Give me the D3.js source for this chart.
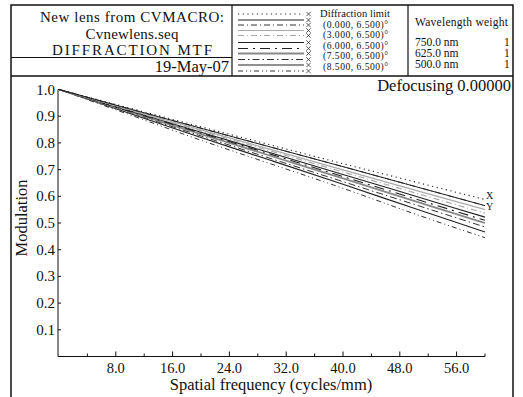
<!DOCTYPE html>
<html><head><meta charset="utf-8">
<script src="https://cdn.jsdelivr.net/npm/d3@7"></script>
<style>body{margin:0;background:#fff}svg{display:block}text{font-family:"Liberation Serif","Times New Roman",serif;fill:#111}</style>
</head><body><svg id="c" width="523" height="397"></svg>
<script>
const freqs = [0, 10, 20, 30, 40, 50, 60];
const diffLimit = [1.0, 0.930, 0.860, 0.791, 0.722, 0.655, 0.588];
const f0T = [1.0, 0.927, 0.855, 0.783, 0.711, 0.638, 0.565];
const f0S = [1.0, 0.927, 0.855, 0.783, 0.711, 0.638, 0.565];
const f3T = [1.0, 0.924, 0.849, 0.774, 0.699, 0.624, 0.550];
const f3S = [1.0, 0.922, 0.845, 0.768, 0.691, 0.614, 0.537];
const f6T = [1.0, 0.920, 0.840, 0.761, 0.682, 0.602, 0.522];
const f6S = [1.0, 0.918, 0.837, 0.756, 0.674, 0.592, 0.510];
const f75T = [1.0, 0.916, 0.833, 0.750, 0.667, 0.583, 0.500];
const f75S = [1.0, 0.913, 0.826, 0.740, 0.655, 0.570, 0.485];
const f85T = [1.0, 0.910, 0.820, 0.733, 0.645, 0.555, 0.466];
const f85S = [1.0, 0.905, 0.810, 0.720, 0.630, 0.535, 0.445];
const fieldLabels = ["(0.000, 6.500)°", "(3.000, 6.500)°", "(6.000, 6.500)°", "(7.500, 6.500)°", "(8.500, 6.500)°"];
const titleLines = ["New lens from CVMACRO:", "Cvnewlens.seq", "DIFFRACTION MTF"];
const titleWidths = [184, 93, 160];
const dateLabel = "19-May-07";
const wavelengths = ["750.0 nm", "625.0 nm", "500.0 nm"];
const weights = ["1", "1", "1"];
const yTicks = [0.1, 0.2, 0.3, 0.4, 0.5, 0.6, 0.7, 0.8, 0.9, 1.0];
const xMajor = [8, 16, 24, 32, 40, 48, 56];
const xMinor = [4, 12, 20, 28, 36, 44, 52, 60];

const svg = d3.select("#c");
const x = d3.scaleLinear().domain([0, 60]).range([59, 485]);
const y = d3.scaleLinear().domain([0, 1]).range([356.5, 89.5]);

// frame
svg.append("path").attr("d", "M11,400 V5 H513 V400").attr("fill", "none").attr("stroke", "#111").attr("stroke-width", 1.5);
svg.append("line").attr("x1", 11).attr("x2", 513).attr("y1", 76).attr("y2", 76).attr("stroke", "#111").attr("stroke-width", 1.5);
svg.append("line").attr("x1", 11).attr("x2", 232).attr("y1", 57.5).attr("y2", 57.5).attr("stroke", "#111").attr("stroke-width", 1.2);
svg.append("line").attr("x1", 232).attr("x2", 232).attr("y1", 5).attr("y2", 76).attr("stroke", "#111").attr("stroke-width", 1.2);
svg.append("line").attr("x1", 408).attr("x2", 408).attr("y1", 5).attr("y2", 76).attr("stroke", "#111").attr("stroke-width", 1.2);

titleLines.forEach((t, i) => svg.append("text").attr("x", 132).attr("y", 22 + i * 16.5).attr("text-anchor", "middle")
  .attr("font-size", 15).attr("textLength", titleWidths[i]).attr("lengthAdjust", "spacing").text(t));
svg.append("text").attr("x", 229).attr("y", 72).attr("text-anchor", "end").attr("font-size", 16.5).text(dateLabel);

// wavelength block
svg.append("text").attr("x", 415).attr("y", 26).attr("font-size", 11.5).attr("textLength", 93).text("Wavelength  weight");
wavelengths.forEach((w, i) => {
  svg.append("text").attr("x", 415).attr("y", 46 + i * 11).attr("font-size", 11.5).text(w);
  svg.append("text").attr("x", 504).attr("y", 46 + i * 11).attr("font-size", 11.5).text(weights[i]);
});

const series = [
  {v: diffLimit, c: "#222", w: 1.1, d: "1.2,3.5", ly: 14},
  {v: f0T, c: "#222", w: 1, d: null, ly: 20},
  {v: f0S, c: "#333", w: 1, d: "6,3,1,3", ly: 25},
  {v: f3T, c: "#aaa", w: 1.2, d: null, ly: 30.5},
  {v: f3S, c: "#aaa", w: 1.2, d: "6,3,1,3", ly: 35.5},
  {v: f6T, c: "#222", w: 1.1, d: null, ly: 42.5},
  {v: f6S, c: "#222", w: 1.1, d: "10,5,2,5", ly: 48.5},
  {v: f75T, c: "#888", w: 1.8, d: null, ly: 53.5},
  {v: f75S, c: "#333", w: 1, d: "7,3,1.5,3", ly: 59.5},
  {v: f85T, c: "#222", w: 1.1, d: null, ly: 65},
  {v: f85S, c: "#333", w: 1, d: "5,3,1,3,1,3", ly: 71}
];

// legend
svg.append("text").attr("x", 320).attr("y", 17).attr("font-size", 10.5).attr("textLength", 70).text("Diffraction limit");
fieldLabels.forEach((t, i) => svg.append("text").attr("x", 323).attr("y", 28 + i * 10.4).attr("font-size", 9.6).attr("textLength", 65).text(t));
const xSym = d3.symbol().type(d3.symbolX).size(14);
series.forEach((s, i) => {
  svg.append("line").attr("x1", 238).attr("x2", 304).attr("y1", s.ly).attr("y2", s.ly)
    .attr("stroke", s.c).attr("stroke-width", s.w).attr("stroke-dasharray", s.d);
  svg.append("path").attr("d", xSym()).attr("transform", `translate(308.5,${s.ly})`)
    .attr("fill", "none").attr("stroke", "#333").attr("stroke-width", 0.8);
});

// axes
const gx = svg.append("g").attr("transform", `translate(0,${y(0)})`);
gx.append("line").attr("x1", 58).attr("x2", x(60)).attr("stroke", "#111");
gx.selectAll(".mj").data(xMajor).join("line").attr("x1", d => x(d)).attr("x2", d => x(d)).attr("y1", 0).attr("y2", -5).attr("stroke", "#111");
gx.selectAll(".mn").data(xMinor).join("line").attr("x1", d => x(d)).attr("x2", d => x(d)).attr("y1", 0).attr("y2", -3).attr("stroke", "#111");
gx.selectAll(".xl").data(xMajor).join("text").attr("x", d => x(d)).attr("y", 16).attr("text-anchor", "middle").attr("font-size", 14.5).text(d => d3.format(".1f")(d));
svg.append("text").attr("x", 271).attr("y", 390).attr("text-anchor", "middle").attr("font-size", 16.5).text("Spatial frequency (cycles/mm)");

const gy = svg.append("g").attr("transform", "translate(58,0)");
gy.append("line").attr("y1", y(0)).attr("y2", y(1)).attr("stroke", "#111");
gy.selectAll(".yt").data(yTicks).join("line").attr("y1", d => y(d)).attr("y2", d => y(d)).attr("x1", 0).attr("x2", 3).attr("stroke", "#111");
gy.selectAll(".yl").data(yTicks).join("text").attr("x", -3).attr("y", d => y(d) + 5).attr("text-anchor", "end").attr("font-size", 15).text(d => d3.format(".1f")(d));
svg.append("text").attr("transform", "translate(27,218) rotate(-90)").attr("text-anchor", "middle").attr("font-size", 16.5).text("Modulation");

svg.append("text").attr("x", 511).attr("y", 91).attr("text-anchor", "end").attr("font-size", 16.5).text("Defocusing 0.00000");

// curves
const line = d3.line().x((d, i) => x(freqs[i])).y(d => y(d)).curve(d3.curveMonotoneX);
series.slice().reverse().forEach(s => {
  svg.append("path").attr("d", line(s.v)).attr("fill", "none").attr("stroke", s.c)
    .attr("stroke-width", s.w).attr("stroke-dasharray", s.d);
});
svg.append("text").attr("x", 486).attr("y", 199).attr("font-size", 10).text("X");
svg.append("text").attr("x", 486).attr("y", 210).attr("font-size", 10).text("Y");
</script></body></html>
